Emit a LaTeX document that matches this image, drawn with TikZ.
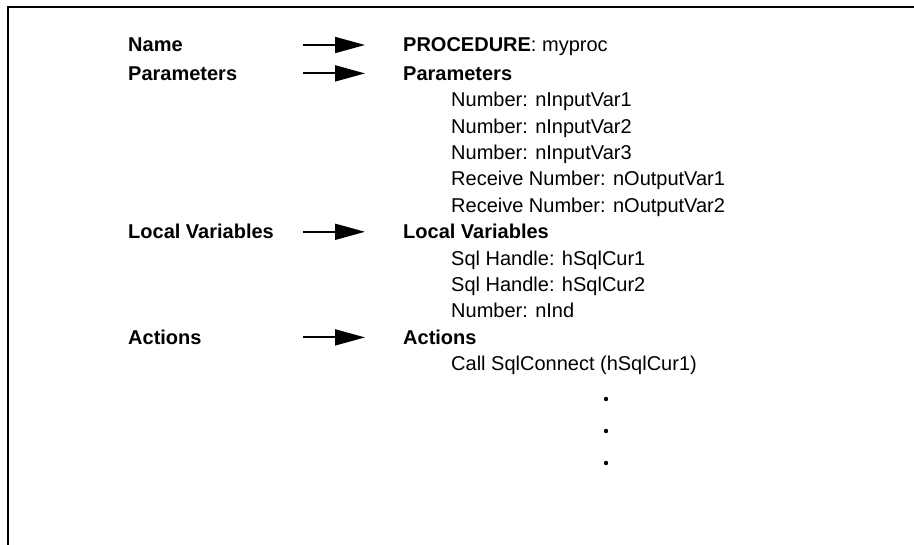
\documentclass[tikz,border=0pt]{standalone}
\usepackage{fontspec}
\setmainfont{Liberation Sans}
\usetikzlibrary{arrows.meta}

\begin{document}
\begin{tikzpicture}[x=1pt,y=-1pt,>={Triangle[length=30pt,width=16pt]},
  itm/.style={anchor=west,inner sep=0pt,text height=14pt,text depth=0pt,font=\fontsize{20}{24}\selectfont},
  lbl/.style={itm,font=\fontsize{20}{24}\selectfont\bfseries},
  arr/.style={->,line width=1.8pt,shorten >=38pt}]
\useasboundingbox (0,0) rectangle (914,545);
\draw[line width=2.5pt] (8,545) -- (8,7) -- (914,7);
% left column
\node[lbl] (nm) at (128,45) {Name};
\node[lbl] (pa) at (128,73.4) {Parameters};
\node[lbl] (lv) at (128,231.8) {Local Variables};
\node[lbl] (ac) at (128,337.4) {Actions};
% right column
\node[itm] (pr) at (403,45) {\textbf{PROCEDURE}: myproc};
\node[lbl] (pb) at (403,73.4) {Parameters};
\foreach \y/\t in {99.8/{Number: nInputVar1},126.2/{Number: nInputVar2},152.6/{Number: nInputVar3},179/{Receive Number: nOutputVar1},205.4/{Receive Number: nOutputVar2}}{\node[itm] at (451,\y) {\t};}
\node[lbl] (lb) at (403,231.8) {Local Variables};
\foreach \y/\t in {258.2/{Sql Handle: hSqlCur1},284.6/{Sql Handle: hSqlCur2},311/{Number: nInd}}{\node[itm] at (451,\y) {\t};}
\node[lbl] (ab) at (403,337.4) {Actions};
\node[itm] (cl) at (451,363.8) {Call SqlConnect (hSqlCur1)};
\foreach \y in {399,431,463}{\fill (606,\y) circle (2.2pt);}
% arrows
\coordinate (tl) at (303,0);
\foreach \n in {pr,pb,lb,ab}{\draw[arr] (\n.west -| tl) -- (\n.west);}
\end{tikzpicture}
\end{document}
